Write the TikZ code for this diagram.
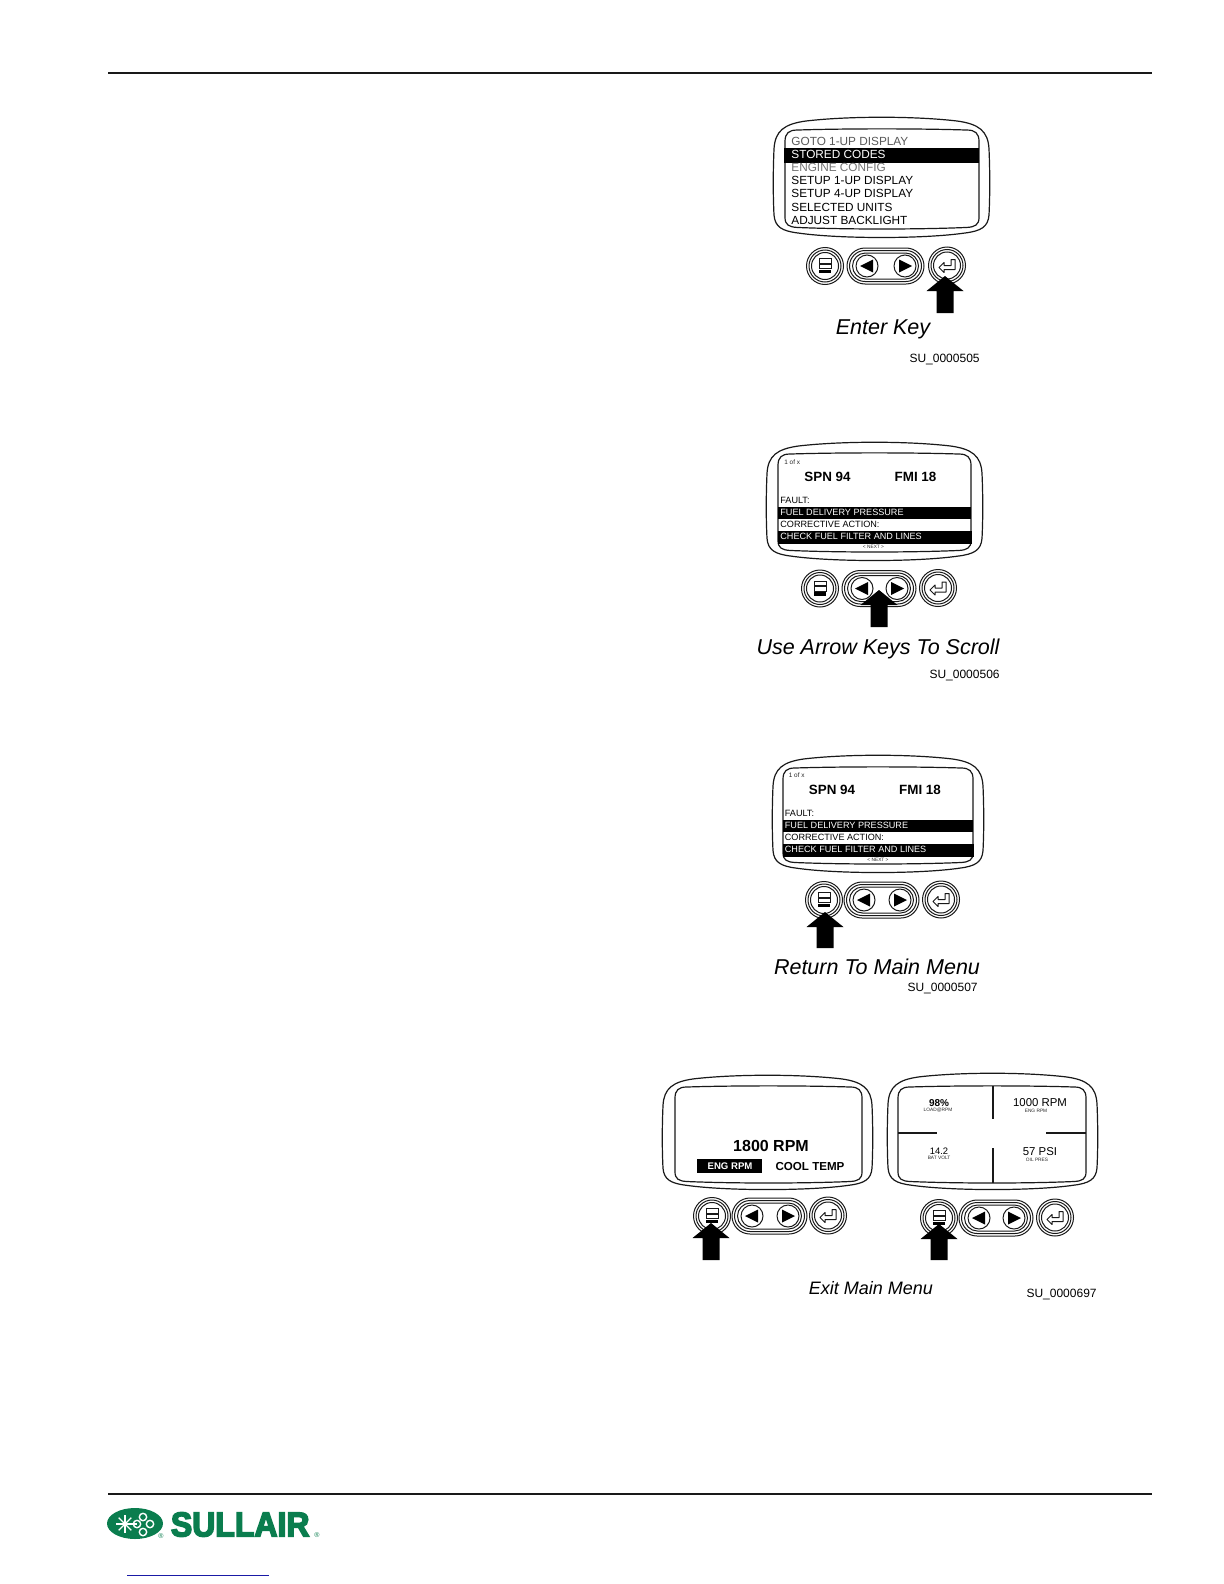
\documentclass[tikz,border=0pt]{standalone}
\usepackage{fontspec}
\setmainfont{Liberation Sans}
\newfontfamily\logofont[FakeBold=4.5,FakeStretch=0.93]{Liberation Sans Bold}
\usepackage{xcolor}
\usetikzlibrary{positioning}
\definecolor{SullairGreen}{HTML}{0A7D4E}
\definecolor{LinkBlue}{HTML}{1A1AA6}
\tikzset{
  rule/.style={line width=1.1pt, draw=black!90},
  outline/.style={line width=0.6pt, draw=black!90},
  ring/.style={line width=0.5pt, draw=black!90},
  bar/.style={fill=black},
  menuline/.style={anchor=west, inner sep=0pt, font=\fontsize{5.9}{6}\selectfont},
  faultline/.style={anchor=west, inner sep=0pt, font=\fontsize{4.55}{5}\selectfont},
  bigcode/.style={inner sep=0pt, font=\fontsize{6.7}{7}\bfseries\selectfont},
  tinytext/.style={inner sep=0pt, text=black!85, font=\fontsize{2.4}{3}\selectfont},
  caption/.style={inner sep=0pt, font=\fontsize{10.75}{12}\itshape\selectfont},
  refcode/.style={inner sep=0pt, anchor=east, font=\fontsize{6}{7}\selectfont},
  gaugevalue/.style={inner sep=0pt, font=\fontsize{5.7}{6}\selectfont}
}
\newcommand{\bezel}[4]{
  \begin{scope}[shift={(#1,#2)}, xscale={#3/215}, yscale={#4/122}]
    \draw[outline] (0,32) .. controls (1,14) and (10,7) .. (32,4) .. controls (75,-1) and (140,-1) .. (183,4)
      .. controls (205,7) and (214,14) .. (215,32) .. controls (216,55) and (216,78) .. (215,98)
      .. controls (214,110) and (207,114) .. (191,116) .. controls (150,122) and (65,122) .. (24,116)
      .. controls (8,114) and (1,110) .. (0,98) .. controls (-1,78) and (-1,55) .. (0,32) -- cycle;
  \end{scope}
}
\newcommand{\screen}[4]{
  \begin{scope}[shift={(#1,#2)}, xscale={#3/194}, yscale={#4/96}]
    \draw[outline] (0,12) .. controls (0,4) and (4,1) .. (12,1) .. controls (60,-0.5) and (134,-0.5) .. (182,1)
      .. controls (190,1) and (194,4) .. (194,12) -- (194,85) .. controls (194,92) and (190,94) .. (182,94.5)
      .. controls (134,96.5) and (60,96.5) .. (12,94.5) .. controls (4,94) and (0,92) .. (0,85) -- cycle;
  \end{scope}
}
\newcommand{\keypad}[5]{
  \begin{scope}[shift={(#1,#2)}]
    \foreach \rad in {18.5,16,13.5} \draw[ring] (0,0) circle[radius=\rad];
    \draw[ring] (-6,-7.5) rectangle (6,-3);
    \draw[ring] (-6,-2) rectangle (6,2.5);
    \fill[black] (-6,3.5) rectangle (6,7);
    \draw[ring, rounded corners=9pt] ({#3-20},-18) rectangle ({#4+19},18);
    \draw[ring, rounded corners=7.8pt] ({#3-17.5},-15.5) rectangle ({#4+16.5},15.5);
    \draw[ring, rounded corners=6.5pt] ({#3-14.5},-13) rectangle ({#4+13.5},13);
    \draw[fill=white, ring] (#3,0) circle[radius=11];
    \draw[fill=white, ring] (#4,0) circle[radius=11];
    \fill[black] ({#3-7},0) -- ({#3+6},-6.5) -- ({#3+6},6.5) -- cycle;
    \fill[black] ({#4+7},0) -- ({#4-6},-6.5) -- ({#4-6},6.5) -- cycle;
    \foreach \rad in {18.5,16,13.5} \draw[ring] (#5,-0.5) circle[radius=\rad];
    \draw[ring, line join=round] ({#5-8},1.5) -- ({#5-3},-3.5) -- ({#5-3},-0.5) -- ({#5+4},-0.5) -- ({#5+4},-6.5)
      -- ({#5+8},-6.5) -- ({#5+8},3.5) -- ({#5-3},3.5) -- ({#5-3},6.5) -- cycle;
  \end{scope}
}
\newcommand{\pushmark}[3]{
  \fill[black] (#1,#2) -- ({#1+18.5},{#2+15}) -- ({#1+8.5},{#2+15}) -- ({#1+8.5},#3)
    -- ({#1-8.5},#3) -- ({#1-8.5},{#2+15}) -- ({#1-18.5},{#2+15}) -- cycle;
}
\newcommand{\faultscreen}[4]{
  \begin{scope}[shift={(#2,#3)}]
    \fill[bar] (0,54) rectangle (#4,66);
    \fill[bar] (0,78) rectangle ({#4+1},90.5);
    \node[tinytext, anchor=west, font=\fontsize{3.2}{4}\selectfont] (#1count) at (6,9) {1 of x};
    \node[bigcode] (#1spn) at (49.5,24) {SPN 94};
    \node[bigcode] (#1fmi) at (137.5,24) {FMI 18};
    \node[faultline] (#1fault) at (2,47) {FAULT:};
    \node[faultline, text=white] (#1fuel) at (2,59) {FUEL DELIVERY PRESSURE};
    \node[faultline] (#1action) at (2,71.2) {CORRECTIVE ACTION:};
    \node[faultline, text=white] (#1check) at (2,83.2) {CHECK FUEL FILTER AND LINES};
    \node[tinytext] (#1next) at (95.5,94) {< NEXT >};
  \end{scope}
}
\begin{document}
\begin{tikzpicture}[x=0.5pt, y=-0.5pt]
  \useasboundingbox (0,0) rectangle (1224,1584);
  \coordinate (topstart) at (108,73);
  \coordinate (topend) at (1152,73);
  \draw[rule] (topstart) -- (topend);
  \coordinate (footstart) at (108,1494);
  \coordinate (footend) at (1152,1494);
  \draw[rule] (footstart) -- (footend);
  \coordinate (linkstart) at (127,1575);
  \coordinate (linkend) at (269,1575);
  \draw[LinkBlue, line width=0.5pt] (linkstart) -- (linkend);

  \bezel{774}{117}{215}{122}
  \screen{785}{129}{194}{100}
  \fill[bar] (784,148) rectangle (979,163);
  \node[menuline, text=black!65] (gotoline) at (791,141) {GOTO 1-UP DISPLAY};
  \node[menuline, text=white] (storedline) at (791,154) {STORED CODES};
  \node[menuline, text=black!55] (engineline) at (791,167) {ENGINE CONFIG};
  \foreach \ypos/\lbl [count=\i] in {180.5/SETUP 1-UP DISPLAY,193.5/SETUP 4-UP DISPLAY,207/SELECTED UNITS,220/ADJUST BACKLIGHT}
    \node[menuline] (setupline\i) at (791,\ypos) {\lbl};
  \keypad{825}{266}{42}{80}{122}
  \pushmark{945}{276}{313}
  \node[caption] (enterkey) at (883,329) {Enter Key};
  \node[refcode] (refone) at (980,359.5) {SU\_0000505};

  \bezel{767}{442}{215}{120}
  \screen{778}{453}{193}{99}
  \faultscreen{scroll}{778}{453}{193}
  \keypad{820}{588.5}{42}{77}{118}
  \pushmark{879}{590}{627}
  \node[caption] (scrollkey) at (878,649) {Use Arrow Keys To Scroll};
  \node[refcode] (reftwo) at (1000,675) {SU\_0000506};

  \bezel{773}{755}{210}{119}
  \screen{783}{767}{190}{97}
  \faultscreen{back}{782.5}{766}{190}
  \keypad{824}{900}{40}{76}{117}
  \pushmark{825}{912}{948}
  \node[caption] (backkey) at (877,967) {Return To Main Menu};
  \node[refcode] (refthree) at (978,988) {SU\_0000507};

  \bezel{663}{1075}{209}{116}
  \screen{675}{1086}{187}{97}
  \fill[bar] (697,1159) rectangle (762,1173);
  \node[inner sep=0pt, font=\fontsize{8}{9}\bfseries\selectfont] (rpmvalue) at (771,1145.5) {1800 RPM};
  \node[inner sep=0pt, text=white, font=\fontsize{4.8}{5}\bfseries\selectfont] (engtab) at (730,1166) {ENG RPM};
  \node[inner sep=0pt, font=\fontsize{5.8}{6}\bfseries\selectfont] (cooltab) at (810,1166) {COOL TEMP};
  \keypad{712}{1216}{40}{76}{116}
  \pushmark{711}{1223}{1260}

  \bezel{888}{1073}{209}{118}
  \screen{898}{1086}{188}{97}
  \coordinate (crosstop) at (993,1086);
  \coordinate (crosstopend) at (993,1119);
  \coordinate (crossbottom) at (993,1148);
  \coordinate (crossbottomend) at (993,1183);
  \coordinate (crossleft) at (898,1133);
  \coordinate (crossleftend) at (937,1133);
  \coordinate (crossright) at (1046,1133);
  \coordinate (crossrightend) at (1086,1133);
  \draw[outline] (crosstop) -- (crosstopend);
  \draw[outline] (crossbottom) -- (crossbottomend);
  \draw[outline] (crossleft) -- (crossleftend);
  \draw[outline] (crossright) -- (crossrightend);
  \node[gaugevalue, font=\fontsize{5}{6}\bfseries\selectfont] (loadvalue) at (939,1103) {98\%};
  \node[tinytext] (loadlabel) at (938,1110) {LOAD@RPM};
  \node[gaugevalue] (speedvalue) at (1040,1103) {1000 RPM};
  \node[tinytext] (speedlabel) at (1036,1111) {ENG RPM};
  \node[gaugevalue, font=\fontsize{4.7}{6}\selectfont] (voltvalue) at (939,1151) {14.2};
  \node[tinytext] (voltlabel) at (939,1158) {BAT VOLT};
  \node[gaugevalue] (presvalue) at (1040,1152) {57 PSI};
  \node[tinytext] (preslabel) at (1037,1160) {OIL PRES};
  \keypad{939}{1218}{40}{75}{116}
  \pushmark{939}{1224}{1260}
  \node[caption, font=\fontsize{9}{11}\itshape\selectfont] (exitkey) at (871,1288) {Exit Main Menu};
  \node[refcode] (reffour) at (1097,1294) {SU\_0000697};

  \fill[SullairGreen] (135,1523.5) ellipse[x radius=28, y radius=15.5];
  \foreach \ang in {0,45,90,135,180,225,270,315}
    \draw[white, line width=0.6pt] (125,1524) -- ++(\ang:9);
  \draw[white, line width=0.6pt] (125,1524) -- (137,1524);
  \foreach \cx/\cy in {143/1517,137/1524,150/1524,143/1532}
    \draw[white, line width=0.7pt] (\cx,\cy) circle[radius=3.7];
  \node[inner sep=0pt, anchor=west, text=SullairGreen, font=\logofont\fontsize{17.2}{18}\selectfont] (logoword) at (170.5,1524.5) {SULLAIR};
  \node[inner sep=0pt, text=SullairGreen, font=\fontsize{3.5}{3}\selectfont] (markone) at (161,1536) {®};
  \node[inner sep=0pt, text=SullairGreen, font=\fontsize{3.5}{3}\selectfont] (marktwo) at (317,1535) {®};
\end{tikzpicture}
\end{document}
